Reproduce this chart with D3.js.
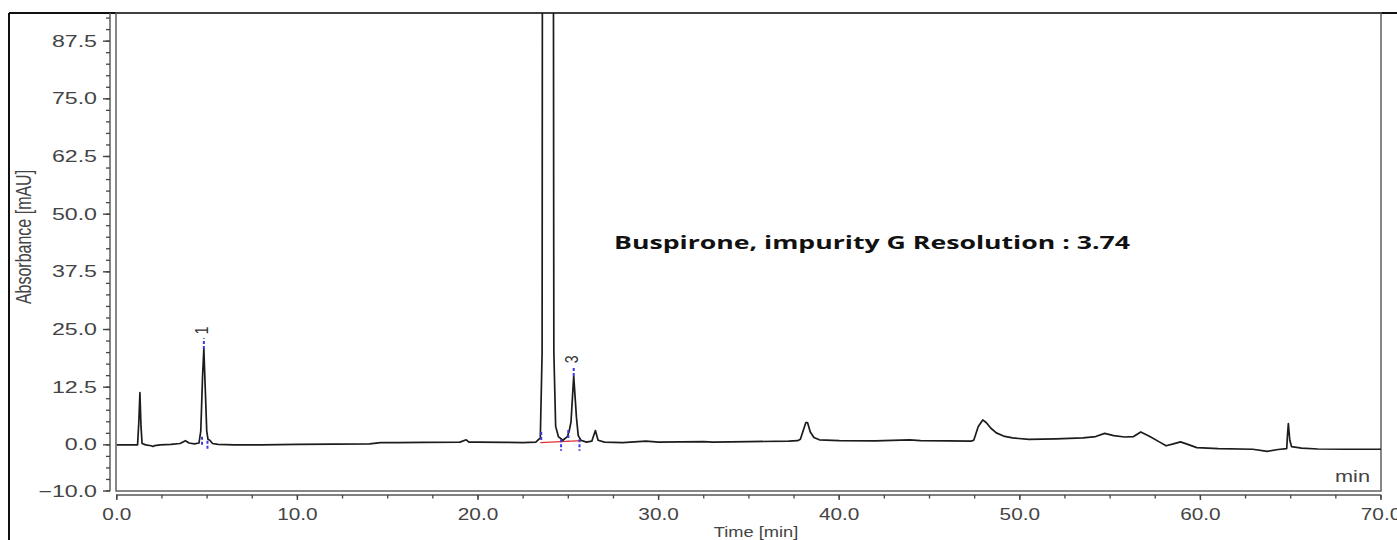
<!DOCTYPE html>
<html><head><meta charset="utf-8">
<script src="https://cdn.jsdelivr.net/npm/d3@7"></script>
<style>body{margin:0;background:#fff;overflow:hidden} svg{display:block}</style>
</head><body>
<svg id="c" width="1397" height="540"></svg>
<script>
// ---- data (time in min, absorbance in mAU) ----
const times = [
  0, 1.15, 1.22, 1.28, 1.34, 1.40, 1.6, 1.9, 2.0, 2.1, 2.4, 3.0, 3.5, 3.8, 4.0, 4.3,
  4.55, 4.65, 4.75, 4.82, 4.90, 4.98, 5.05, 5.15, 5.3, 5.6, 6.5, 8, 10, 12, 14, 14.6,
  15.5, 17, 19, 19.35, 19.5, 20, 21.5, 22.5, 23.2, 23.45, 23.55, 23.6, 24.12, 24.2,
  24.3, 24.45, 24.7, 24.95, 25.05, 25.15, 25.3, 25.45, 25.55, 25.7, 26.0, 26.3, 26.5, 26.65,
  27, 28, 29.3, 30, 32.5, 33, 35, 37.2, 37.7, 37.85, 38.0, 38.15, 38.25, 38.4, 38.6, 38.9,
  40, 42, 43.9, 44.5, 46, 47.3, 47.45, 47.7, 47.95, 48.15, 48.4, 48.7, 49.1, 49.6,
  50.5, 52, 53.5, 54.2, 54.7, 55.2, 55.8, 56.3, 56.7, 57.2, 57.7, 58.1, 58.5, 58.9,
  59.3, 59.8, 61, 62.9, 63.7, 64.3, 64.78, 64.82, 64.87, 64.95, 65.05, 65.6, 66.5, 68, 70
];
const absorbance = [
  0, 0, 5, 11.3, 4, 0.3, 0, -0.2, -0.35, -0.15, 0, 0.1, 0.3, 0.9, 0.4, 0.2,
  0.4, 3, 15, 20.8, 12, 3, 1.2, 1.0, 0.3, 0.1, 0, 0, 0.1, 0.15, 0.2, 0.5,
  0.5, 0.55, 0.6, 1.1, 0.6, 0.6, 0.55, 0.5, 0.6, 1.5, 20, 300, 300, 20,
  4, 1.8, 1.0, 1.8, 3.0, 5, 14.9, 6, 2, 1.0, 0.6, 0.8, 3.1, 1.0,
  0.6, 0.5, 0.8, 0.6, 0.7, 0.6, 0.7, 0.8, 0.9, 1.2, 3.0, 4.8, 4.8, 2.8, 1.6, 1.1,
  0.9, 0.85, 1.1, 0.9, 0.85, 0.8, 1.0, 4.0, 5.4, 4.8, 3.6, 2.6, 1.9, 1.5,
  1.2, 1.3, 1.5, 1.8, 2.5, 2.0, 1.7, 1.8, 2.8, 1.8, 0.7, -0.2, 0.2, 0.65,
  0.1, -0.6, -0.8, -0.95, -1.4, -1.0, -0.8, 2, 4.6, 1, -0.4, -0.7, -0.9, -0.95, -0.95
];
const xTickLabels = [0, 10, 20, 30, 40, 50, 60, 70];
const yTickLabels = [-10, 0, 12.5, 25, 37.5, 50, 62.5, 75, 87.5];
const peakNames = ["1", "3"];
const peakTimes = [4.82, 25.3];
const peakApex = [20.8, 14.9];
const peakLabelTop = [23.1, 16.8];
const boundaryTimes = [4.72, 5.02, 23.5, 24.6, 25.0, 25.62];
const boundaryFrom = [0, 0.9, 2.8, 1.2, 3.2, 1.2];
const boundaryTo = [1.8, -1.3, 0.6, -1.3, 1.0, -1.3];
const baselineTimes = [23.45, 25.75];
const baselineValues = [0.5, 0.9];
const annotation = "Buspirone, impurity G Resolution : 3.74";

// ---- layout ----
const L = 116.8, R = 1381, T = 13, B = 491;
const svg = d3.select("#c");
const x = d3.scaleLinear().domain([0, 70]).range([L, R]);
const y = d3.scaleLinear().domain([-10, 93.6]).range([B, T]);
const fmt = d3.format(".1f");
const FONT = "'Liberation Sans', Arial, sans-serif";

function stretch(sel, f) {
  sel.each(function () {
    const t = d3.select(this);
    const tx = +t.attr("x") || 0, ty = +t.attr("y") || 0;
    t.attr("x", 0).attr("y", 0).attr("transform", `translate(${tx},${ty}) scale(${f},1)`);
  });
}

// outer frame
svg.append("line").attr("x1", 9).attr("x2", 9).attr("y1", 13).attr("y2", 540)
  .attr("stroke", "#111").attr("stroke-width", 2);
svg.append("line").attr("x1", 9).attr("x2", 1397).attr("y1", 13).attr("y2", 13)
  .attr("stroke", "#111").attr("stroke-width", 2);

// plot frame
svg.append("rect").attr("x", 116).attr("y", T).attr("width", R - 116).attr("height", B - T)
  .attr("fill", "none").attr("stroke", "#555").attr("stroke-width", 1.4);

// y axis
const yAxisG = svg.append("g").attr("transform", "translate(110,0)");
yAxisG.append("line").attr("y1", T).attr("y2", B).attr("stroke", "#555").attr("stroke-width", 1.4);
const yMinor = d3.range(-10, 93.6, 2.5);
yAxisG.selectAll(".ym").data(yMinor).join("line")
  .attr("x1", -4).attr("x2", 0).attr("y1", d => y(d)).attr("y2", d => y(d))
  .attr("stroke", "#444").attr("stroke-width", 1.3);
yAxisG.selectAll(".yM").data(yTickLabels).join("line")
  .attr("x1", -7).attr("x2", 0).attr("y1", d => y(d)).attr("y2", d => y(d))
  .attr("stroke", "#444").attr("stroke-width", 1.4);
const yl = svg.selectAll(".yl").data(yTickLabels).join("text")
  .attr("x", 97).attr("y", d => y(d) + 5.5)
  .attr("text-anchor", "end").attr("font-family", FONT).attr("font-size", 16)
  .attr("fill", "#444").text(d => fmt(d));
stretch(yl, 1.45);

// x axis
const xAxisG = svg.append("g").attr("transform", "translate(0,495)");
xAxisG.append("line").attr("x1", 116).attr("x2", R).attr("stroke", "#555").attr("stroke-width", 1.4);
const xMinor = d3.range(0, 70.01, 2.5);
xAxisG.selectAll(".xm").data(xMinor).join("line")
  .attr("x1", d => x(d)).attr("x2", d => x(d)).attr("y1", 0).attr("y2", 3.5)
  .attr("stroke", "#444").attr("stroke-width", 1.3);
xAxisG.selectAll(".xM").data(xTickLabels).join("line")
  .attr("x1", d => x(d)).attr("x2", d => x(d)).attr("y1", 0).attr("y2", 5)
  .attr("stroke", "#444").attr("stroke-width", 1.4);
const xl = svg.selectAll(".xl").data(xTickLabels).join("text")
  .attr("x", d => x(d)).attr("y", 520)
  .attr("text-anchor", "middle").attr("font-family", FONT).attr("font-size", 16)
  .attr("fill", "#444").text(d => fmt(d));
stretch(xl, 1.3);

// axis titles
const xt = svg.append("text").attr("x", 756).attr("y", 536.5).attr("text-anchor", "middle")
  .attr("font-family", FONT).attr("font-size", 15).attr("fill", "#444").text("Time [min]");
stretch(xt, 1.22);
svg.append("text").attr("transform", "translate(31,237) scale(1.4,1) rotate(-90)")
  .attr("text-anchor", "middle").attr("font-family", FONT).attr("font-size", 16)
  .attr("fill", "#444").text("Absorbance [mAU]");
const mt = svg.append("text").attr("x", 1370).attr("y", 482).attr("text-anchor", "end")
  .attr("font-family", FONT).attr("font-size", 16).attr("fill", "#444").text("min");
stretch(mt, 1.36);

// clip
svg.append("clipPath").attr("id", "plotclip").append("rect")
  .attr("x", 116).attr("y", T).attr("width", R - 116).attr("height", B - T);
const plot = svg.append("g").attr("clip-path", "url(#plotclip)");

// integration baseline (red)
plot.append("line")
  .attr("x1", x(baselineTimes[0])).attr("x2", x(baselineTimes[1]))
  .attr("y1", y(baselineValues[0])).attr("y2", y(baselineValues[1]))
  .attr("stroke", "#e03030").attr("stroke-width", 1.3);

// trace
const pts = times.map((t, i) => [t, absorbance[i]]);
plot.append("path").datum(pts)
  .attr("d", d3.line().x(d => x(d[0])).y(d => y(d[1])))
  .attr("fill", "none").attr("stroke", "#1c1c1c").attr("stroke-width", 1.7)
  .attr("stroke-linejoin", "round");

// peak boundary markers (blue)
boundaryTimes.forEach((t, i) => {
  plot.append("line").attr("x1", x(t)).attr("x2", x(t))
    .attr("y1", y(boundaryFrom[i])).attr("y2", y(boundaryTo[i]))
    .attr("stroke", "#3a3adf").attr("stroke-width", 2).attr("stroke-dasharray", "3,2");
});

// peak apex markers + labels
peakNames.forEach((n, i) => {
  plot.append("line").attr("x1", x(peakTimes[i])).attr("x2", x(peakTimes[i]))
    .attr("y1", y(peakApex[i])).attr("y2", y(peakLabelTop[i]))
    .attr("stroke", "#3a3adf").attr("stroke-width", 2).attr("stroke-dasharray", "3,2");
  svg.append("text")
    .attr("transform", `translate(${x(peakTimes[i]) + 4.5},${y(peakLabelTop[i]) - 8}) scale(1.35,1) rotate(-90)`)
    .attr("text-anchor", "middle").attr("font-family", FONT).attr("font-size", 14)
    .attr("fill", "#333").text(n);
});

// annotation
svg.append("text").attr("x", 614).attr("y", 249)
  .attr("font-family", "'Open Sans', 'Noto Sans', sans-serif").attr("font-weight", "bold")
  .attr("font-size", 18).attr("fill", "#111")
  .attr("textLength", 516).attr("lengthAdjust", "spacingAndGlyphs")
  .text(annotation);
</script>
</body></html>
